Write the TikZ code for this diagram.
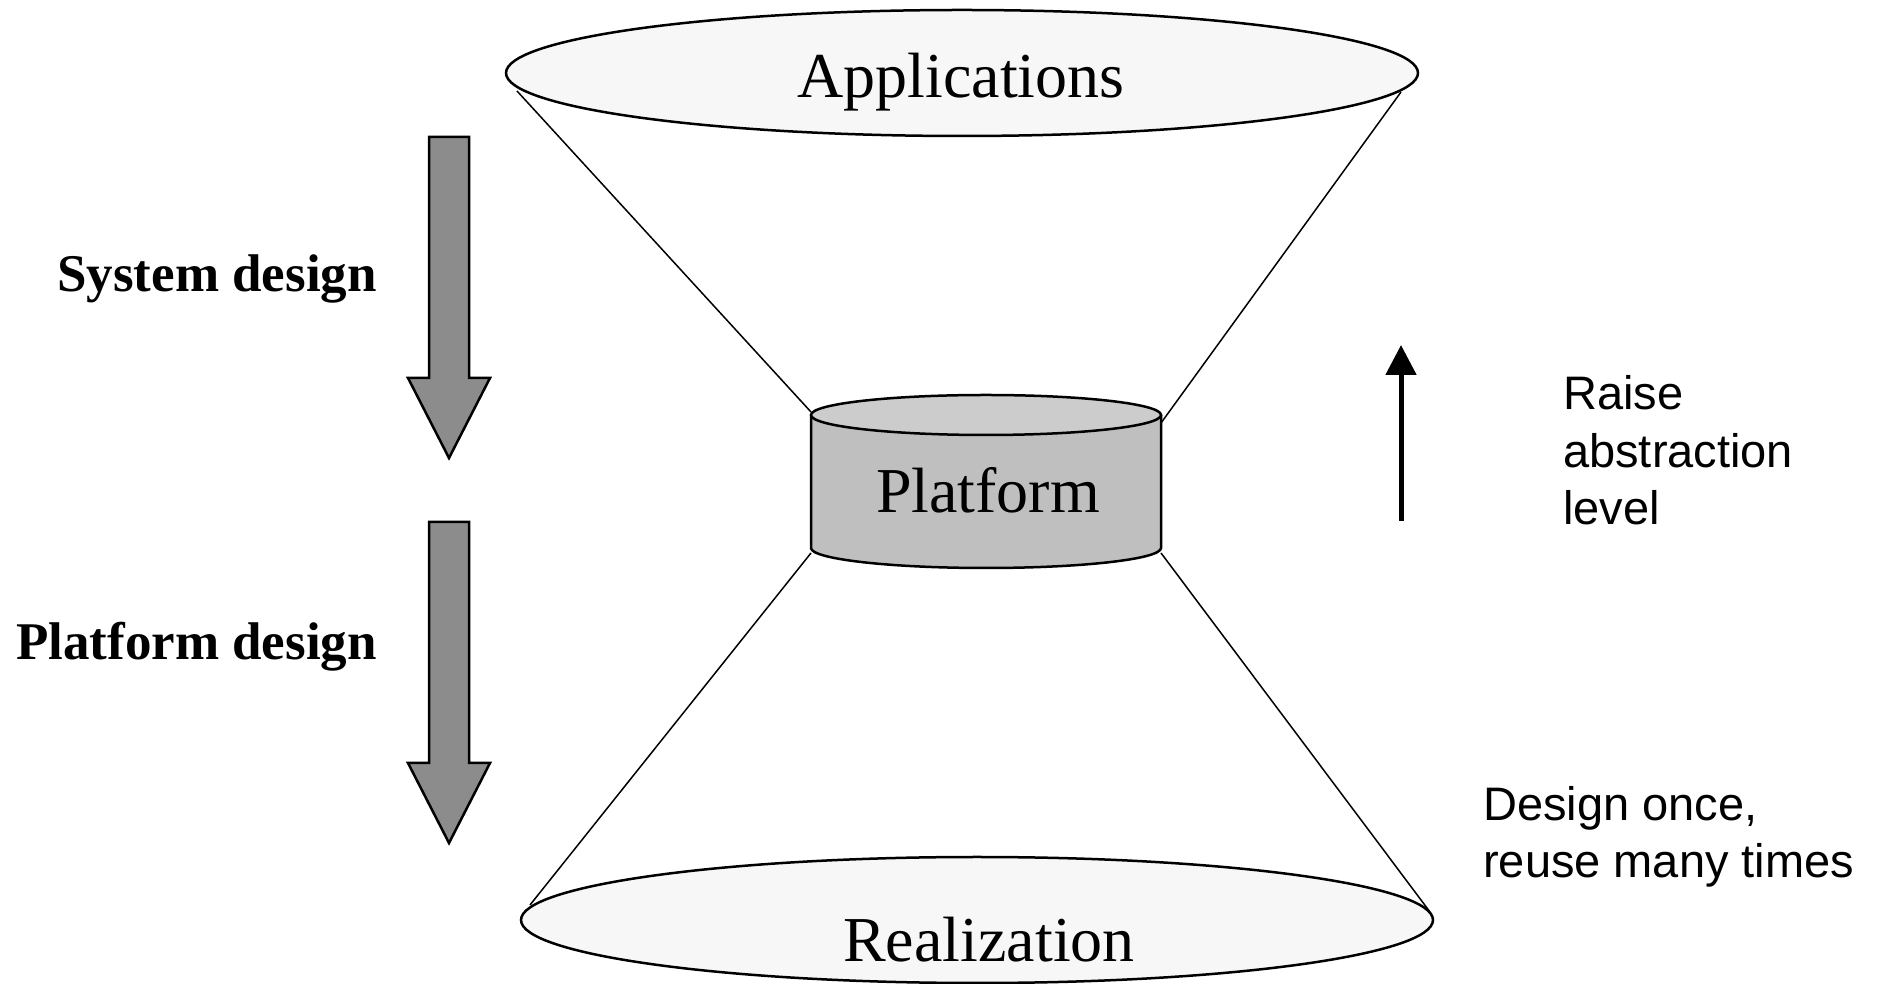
\documentclass[tikz,border=0pt]{standalone}
\usepackage{fontspec}
\setmainfont{Liberation Serif}
\newfontfamily\arialfont{Liberation Sans}
\usetikzlibrary{shapes.geometric,arrows.meta}
\begin{document}
\begin{tikzpicture}[x=1pt,y=1pt,
  outline/.style={draw=black,line width=2.5pt},
  disc/.style={ellipse,outline,fill=white!97!black,inner sep=0pt,
               minimum width=912pt,minimum height=126pt},
  funnel/.style={draw=black,line width=1.5pt},
  serifbig/.style={font=\fontsize{64}{64}\selectfont,inner sep=0pt},
  boldlabel/.style={font=\bfseries\fontsize{53}{53}\selectfont,inner sep=0pt},
  sanslabel/.style={font=\arialfont\fontsize{47}{57.5}\selectfont,inner sep=0pt,align=left},
  blockarrow/.style={draw=black,line width=2.5pt,fill=black!45,line join=miter},
  uparrow/.style={draw=black,line width=5pt,-{Triangle[length=30pt,width=30pt]}},
  downarrow/.pic={
    \path[blockarrow] (-20,0) -- (20,0) -- (20,-241) -- (41,-241) -- (0,-321)
      -- (-41,-241) -- (-20,-241) -- cycle;
  }]
\useasboundingbox (0,0) rectangle (1878,984);

% end points of the funnel lines
\coordinate (appsL) at (517,893);
\coordinate (appsR) at (1401,892);
\coordinate (platTL) at (811,572);
\coordinate (platTR) at (1161,561);
\coordinate (platBL) at (811,431);
\coordinate (platBR) at (1161,431);
\coordinate (realL) at (530,79);
\coordinate (realR) at (1430,72);

% funnel lines
\draw[funnel] (appsL) -- (platTL);
\draw[funnel] (appsR) -- (platTR);
\draw[funnel] (platBL) -- (realL);
\draw[funnel] (platBR) -- (realR);

% top and bottom discs
\node[disc] (apps) at (962,911) {};
\node[disc] (real) at (977,64) {};

% platform cylinder
\path[fill=black!25] (811,569) -- (811,436)
  arc[start angle=180,end angle=360,x radius=175,y radius=20] -- (1161,569) -- cycle;
\draw[outline] (811,569) -- (811,436)
  arc[start angle=180,end angle=360,x radius=175,y radius=20] -- (1161,569);
\draw[outline,fill=black!20] (986,569) ellipse[x radius=175,y radius=20];

% titles
\node[serifbig,anchor=base] (appstext) at (961,886) {Applications};
\node[serifbig,anchor=base] (plattext) at (988,471) {Platform};
\node[serifbig,anchor=base] (realtext) at (989,22) {Realization};

% design flow arrows and labels
\pic at (449,847) {downarrow};
\pic at (449,462) {downarrow};
\node[boldlabel,anchor=base east] (sysd) at (377,692) {System design};
\node[boldlabel,anchor=base east] (platd) at (377,324) {Platform design};

% abstraction arrow and notes
\coordinate (absBot) at (1401,463);
\coordinate (absTop) at (1401,639);
\draw[uparrow] (absBot) -- (absTop);
\node[sanslabel,anchor=base west] (raise) at (1563,459) {Raise\\abstraction\\level};
\node[sanslabel,anchor=base west] (reuse) at (1483,106) {Design once,\\reuse many times};
\end{tikzpicture}
\end{document}
